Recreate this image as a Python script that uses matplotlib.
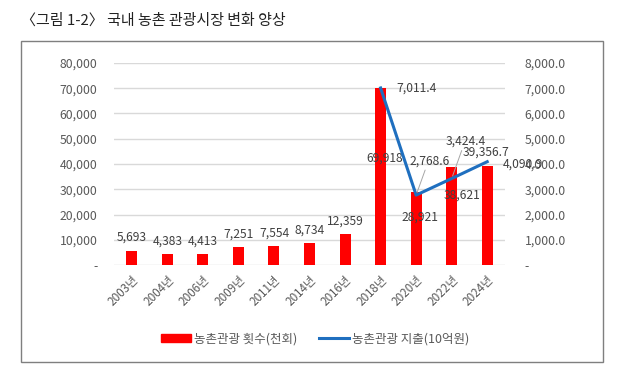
import matplotlib
matplotlib.use("Agg")
import matplotlib.pyplot as plt
import matplotlib.patches as patches
from matplotlib.lines import Line2D
import numpy as np

plt.rcParams["font.family"] = ["Noto Sans CJK KR", "DejaVu Sans"]

# Data
years = ["2003년", "2004년", "2006년", "2009년", "2011년", "2014년",
         "2016년", "2018년", "2020년", "2022년", "2024년"]
visits = [5693, 4383, 4413, 7251, 7554, 8734, 12359, 69918, 28921, 38621, 39356.7]
spend_years = ["2018년", "2020년", "2022년", "2024년"]
spend = [7011.4, 2768.6, 3424.4, 4090.9]

TEXT_COLOR = "#595959"
LABEL_COLOR = "#404040"
GRID_COLOR = "#d9d9d9"
BAR_COLOR = "#ff0000"
LINE_COLOR = "#1f6fbf"


def fmt_int(v, _=None):
    return "-" if v == 0 else f"{v:,.0f}"


def fmt_dec(v, _=None):
    return "-" if v == 0 else f"{v:,.1f}"


def fmt_bar(v):
    return f"{v:,.0f}" if float(v).is_integer() else f"{v:,.1f}"


fig = plt.figure(figsize=(6.2, 3.65), dpi=100)
fig.set_facecolor("white")

# Title
fig.text(21 / 620, 1 - 21 / 365, "〈그림 1-2〉 국내 농촌 관광시장 변화 양상",
         fontsize=10.8, color="#222222", va="center", ha="left", fontweight="medium")

# Chart frame
fig.patches.append(patches.Rectangle((21 / 620, 1 - 362 / 365), 582 / 620, 321 / 365,
                                     transform=fig.transFigure, fill=False,
                                     edgecolor="#7f7f7f", linewidth=1.0))

ax = fig.add_axes([114 / 620, 1 - 265 / 365, 391 / 620, 202 / 365])
x = np.arange(len(years))
bars = ax.bar(x, visits, width=0.31, color=BAR_COLOR, zorder=2)
ax.set_xlim(-0.5, len(years) - 0.5)
ax.set_ylim(0, 80000)
ax.set_yticks(np.arange(0, 80001, 10000))
ax.yaxis.set_major_formatter(matplotlib.ticker.FuncFormatter(fmt_int))
ax.set_xticks(x)
ax.set_xticklabels(years, rotation=45, ha="right", rotation_mode="anchor")
ax.tick_params(axis="both", length=0, colors=TEXT_COLOR, labelsize=8.8)
ax.tick_params(axis="x", labelsize=8.4, pad=6)
ax.tick_params(axis="y", pad=12)
ax.grid(axis="y", color=GRID_COLOR, linewidth=1, zorder=0)
for s in ax.spines.values():
    s.set_visible(False)

ax2 = ax.twinx()
sx = [years.index(y) for y in spend_years]
ax2.plot(sx, spend, color=LINE_COLOR, linewidth=2.2, zorder=3)
ax2.set_ylim(0, 8000)
ax2.set_yticks(np.arange(0, 8001, 1000))
ax2.yaxis.set_major_formatter(matplotlib.ticker.FuncFormatter(fmt_dec))
ax2.tick_params(axis="y", length=0, colors=TEXT_COLOR, labelsize=8.8, pad=14)
for s in ax2.spines.values():
    s.set_visible(False)

# Bar data labels (offsets in pixels, as placed in the reference)
bar_offsets = [(0, 13)] * 7 + [(4, -70), (4, -25), (10, -28), (-1, 13)]
for i, (v, off) in enumerate(zip(visits, bar_offsets)):
    ax.annotate(fmt_bar(v), (i, v), xytext=off, textcoords="offset pixels",
                ha="center", va="center", fontsize=8.7, color=LABEL_COLOR, zorder=5)

# Line data labels
line_offsets = [(36, 0), (13, 34), (14, 37), (36, -2)]
for xi, v, off in zip(sx, spend, line_offsets):
    ax2.annotate(fmt_dec(v), (xi, v), xytext=off, textcoords="offset pixels",
                 ha="center", va="center", fontsize=8.7, color=LABEL_COLOR, zorder=5)

# Leader lines for the two crowded labels
for xi, v, off in zip(sx[1:3], spend[1:3], line_offsets[1:3]):
    ax2.annotate("", (xi, v), xytext=(off[0] - 4, off[1] - 9), textcoords="offset pixels",
                 arrowprops=dict(arrowstyle="-", color="#a6a6a6", linewidth=0.7,
                                 shrinkA=0, shrinkB=2))

# Legend
handles = [patches.Patch(color=BAR_COLOR, label="농촌관광 횟수(천회)"),
           Line2D([], [], color=LINE_COLOR, linewidth=2.2, label="농촌관광 지출(10억원)")]
fig.legend(handles=handles, loc="center", bbox_to_anchor=(315 / 620, 1 - 339 / 365),
           ncol=2, frameon=False, fontsize=9, labelcolor=TEXT_COLOR,
           handlelength=2.4, handleheight=0.6, columnspacing=1.8, handletextpad=0.2)

fig.savefig("out.png", dpi=100)
